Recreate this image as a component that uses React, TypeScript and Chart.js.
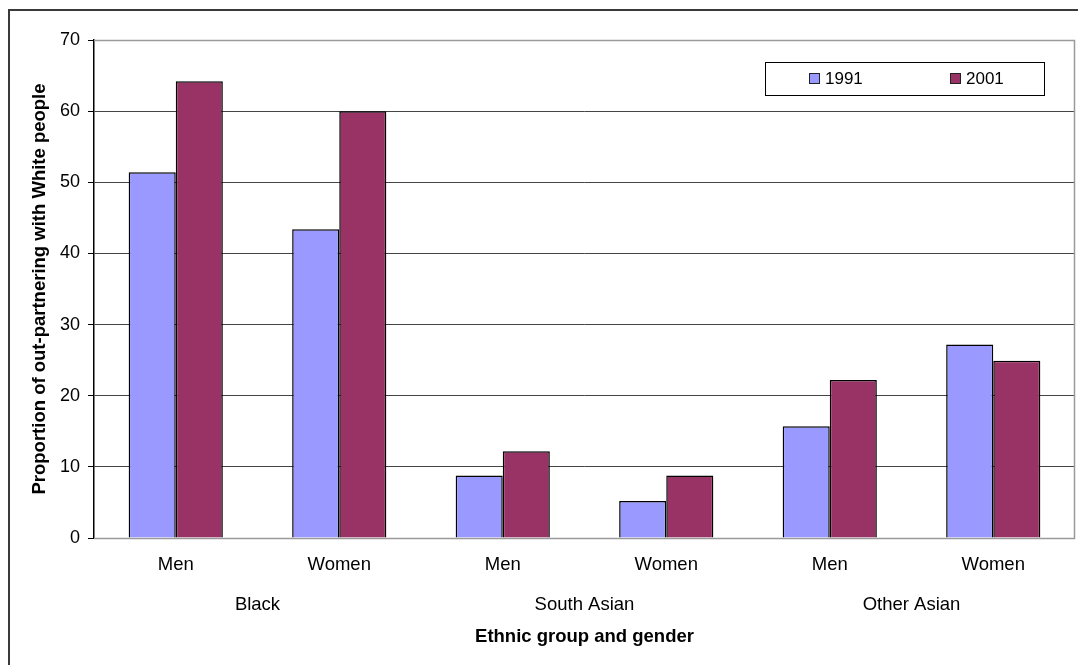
import { useEffect, useRef } from "react";
import { Chart, registerables } from "chart.js";

Chart.register(...registerables);

// Sub-categories along the x axis and the ethnic groups that span them
const categories = ["Men", "Women", "Men", "Women", "Men", "Women"];
const groups = ["Black", "South Asian", "Other Asian"];

// Out-partnering with White people (%)
const series1991 = [51.4, 43.4, 8.8, 5.2, 15.7, 27.2];
const series2001 = [64.2, 60.0, 12.2, 8.8, 22.2, 24.9];
const seriesLabels = ["1991", "2001"];
const seriesColors = ["#9999FF", "#993366"];

const yMin = 0;
const yMax = 70;
const yStep = 10;

const FONT = "'Liberation Sans', Arial, Helvetica, sans-serif";

// Gray frame around the plot area (top, right, bottom)
const plotFrame = {
  id: "plotFrame",
  beforeDatasetsDraw(chart: any) {
    const { ctx, chartArea: a } = chart;
    ctx.save();
    ctx.strokeStyle = "#9a9a9a";
    ctx.lineWidth = 1.5;
    ctx.beginPath();
    ctx.moveTo(a.left, a.top + 0.5);
    ctx.lineTo(a.right - 0.5, a.top + 0.5);
    ctx.lineTo(a.right - 0.5, a.bottom + 0.5);
    ctx.lineTo(a.left, a.bottom + 0.5);
    ctx.stroke();
    ctx.restore();
  },
};

// Outer chart border and boxed legend
const decorations = {
  id: "decorations",
  afterDraw(chart: any) {
    const { ctx } = chart;
    ctx.save();
    ctx.strokeStyle = "#3a3a3a";
    ctx.lineWidth = 2;
    ctx.beginPath();
    ctx.moveTo(9, chart.height);
    ctx.lineTo(9, 10);
    ctx.lineTo(chart.width, 10);
    ctx.stroke();

    // legend box
    const bx = 765.5, by = 62.5, bw = 279, bh = 33;
    ctx.fillStyle = "#ffffff";
    ctx.fillRect(bx, by, bw, bh);
    ctx.strokeStyle = "#000000";
    ctx.lineWidth = 1;
    ctx.strokeRect(bx, by, bw, bh);

    const items = chart.data.datasets.map((d: any) => ({ label: d.label, color: d.backgroundColor }));
    const xs = [809, 950];
    ctx.font = `17px ${FONT}`;
    ctx.textBaseline = "middle";
    ctx.textAlign = "left";
    items.forEach((it: any, i: number) => {
      const sx = xs[i];
      ctx.fillStyle = it.color;
      ctx.fillRect(sx + 0.5, 73.5, 10, 10);
      ctx.strokeStyle = "#222";
      ctx.strokeRect(sx + 0.5, 73.5, 10, 10);
      ctx.fillStyle = "#000";
      ctx.fillText(it.label, sx + 16, 79);
    });
    ctx.restore();
  },
};

export default function App() {
  const canvasRef = useRef<HTMLCanvasElement | null>(null);

  useEffect(() => {
    if (!canvasRef.current) return;
    const chart = new Chart(canvasRef.current, {
      type: "bar",
      data: {
        labels: categories,
        datasets: [
          {
            label: seriesLabels[0],
            data: series1991,
            backgroundColor: seriesColors[0],
            borderColor: "#000000",
            borderWidth: 1.5,
            categoryPercentage: 0.576,
            barPercentage: 1,
          },
          {
            label: seriesLabels[1],
            data: series2001,
            backgroundColor: seriesColors[1],
            borderColor: "#000000",
            borderWidth: 1.5,
            categoryPercentage: 0.576,
            barPercentage: 1,
          },
        ],
      },
      options: {
        responsive: false,
        animation: false,
        devicePixelRatio: 1,
        layout: { padding: { left: 20, top: 40, right: 3, bottom: 10 } },
        plugins: {
          legend: { display: false },
          tooltip: { enabled: false },
        },
        scales: {
          x: {
            type: "category",
            position: "bottom",
            weight: 0,
            grid: { display: false, drawTicks: false },
            border: { display: false },
            ticks: {
              color: "#000",
              padding: 16,
              maxRotation: 0,
              autoSkip: false,
              font: { family: FONT, size: 18.5 },
            },
            afterFit(scale: any) {
              scale.height = 45;
            },
          },
          x2: {
            type: "category",
            position: "bottom",
            weight: 1,
            labels: groups,
            offset: true,
            grid: { display: false, drawTicks: false },
            border: { display: false },
            ticks: {
              color: "#000",
              padding: 11,
              maxRotation: 0,
              autoSkip: false,
              font: { family: FONT, size: 18.5 },
            },
            title: {
              display: true,
              text: "Ethnic group and gender",
              color: "#000",
              font: { family: FONT, size: 18.5, weight: "bold" },
              padding: { top: 0, bottom: 7 },
            },
            afterFit(scale: any) {
              scale.height = 72;
            },
          },
          y: {
            min: yMin,
            max: yMax,
            grid: {
              color: "#444444",
              lineWidth: 1,
              tickLength: 6,
              tickColor: "#000",
            },
            border: { display: true, color: "#000", width: 1.5 },
            ticks: {
              stepSize: yStep,
              color: "#000",
              padding: 8,
              font: { family: FONT, size: 18 },
            },
            title: {
              display: true,
              text: "Proportion of out-partnering with White people",
              color: "#000",
              font: { family: FONT, size: 18.5, weight: "bold" },
              padding: { top: 9, bottom: 0 },
            },
            afterFit(scale: any) {
              scale.width = 74;
            },
          },
        },
      },
      plugins: [plotFrame, decorations],
    });
    return () => chart.destroy();
  }, []);

  return (
    <div style={{ position: "absolute", left: 0, top: 0, width: 1078, height: 665, background: "#fff" }}>
      <canvas ref={canvasRef} width={1078} height={665} style={{ display: "block" }} />
    </div>
  );
}
